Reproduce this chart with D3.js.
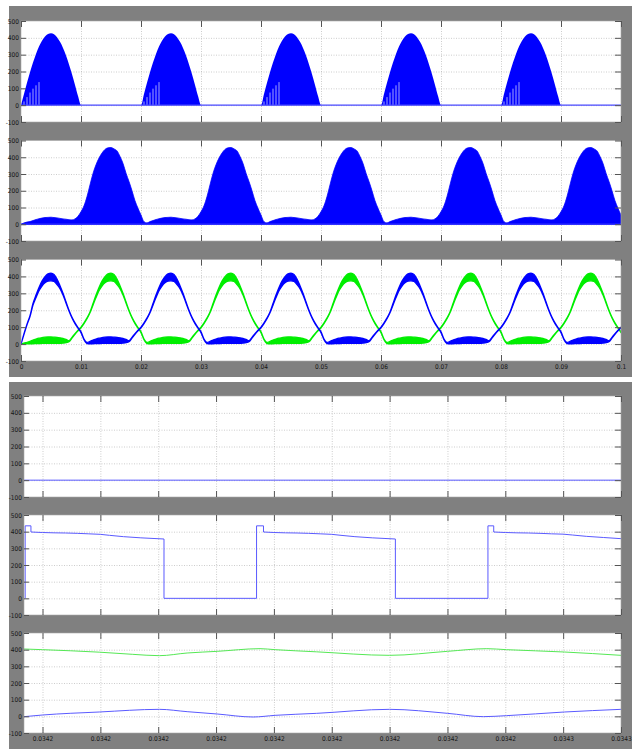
<!DOCTYPE html>
<html>
<head>
<meta charset="utf-8">
<script src="https://cdnjs.cloudflare.com/ajax/libs/d3/7.8.5/d3.min.js"></script>
<style>
  body { margin: 0; background: #fff; }
  svg { display: block; }
  .tick text {
    font-family: "Liberation Sans Narrow", "DejaVu Sans Condensed", "Arial Narrow", sans-serif;
    font-size: 6.5px;
    fill: #151515;
  }
</style>
</head>
<body>
<svg id="chart"></svg>
<script>
// ---- data ----
const sampleStep = 0.0005;   // spacing of the per-period samples (s)
const period = 0.02;
const nPeriods = 5;

const topXTicks = [0, 0.01, 0.02, 0.03, 0.04, 0.05, 0.06, 0.07, 0.08, 0.09, 0.1];
const topXLabels = ["0", "0.01", "0.02", "0.03", "0.04", "0.05", "0.06", "0.07", "0.08", "0.09", "0.1"];
const yTicks = [-100, 0, 100, 200, 300, 400, 500];
const yTickLabels = ["-100", "0", "100", "200", "300", "400", "500"];

// top scope, trace 1: chopped half wave (one period)
const pulseEnv = [0, 67, 133, 196, 253, 304, 348, 383, 408, 423, 427, 421, 404, 376, 340, 295, 242, 184, 120, 54,
                  0, 0, 0, 0, 0, 0, 0, 0, 0, 0, 0, 0, 0, 0, 0, 0, 0, 0, 0, 0];
const gapTimes = [0.0005, 0.001, 0.0015, 0.002, 0.0025, 0.003];
const gapHeights = [22, 48, 75, 98, 118, 137];

// top scope, trace 2 (one period) and its first samples after start-up
const bridgeEnv = [55, 15, 8, 16, 22, 28, 33, 37, 40, 41, 42, 40, 38, 35, 32, 30, 27, 26, 32, 48,
                   75, 110, 165, 235, 303, 355, 395, 425, 447, 456, 458, 450, 438, 405, 363, 305, 255, 200, 140, 95];
const bridgeStart = [0, 8, 13];

// top scope, trace 3: upper / lower edge of the blue and green bands (one period)
const blueHi = [100, 125, 155, 190, 240, 290, 335, 372, 398, 415, 420, 412, 385, 345, 300, 250, 200, 158, 125, 98,
                72, 30, 10, 16, 24, 30, 35, 38, 41, 42, 42, 41, 40, 37, 33, 28, 20, 40, 62, 82];
const blueLo = [96, 121, 150, 185, 230, 275, 315, 343, 362, 372, 374, 370, 352, 328, 290, 243, 195, 154, 121, 94,
                68, 26, 3, 2, 2, 3, 3, 4, 4, 5, 5, 5, 5, 5, 6, 8, 14, 35, 58, 78];
const greenHi = [72, 30, 10, 16, 24, 30, 35, 38, 41, 42, 42, 41, 40, 37, 33, 28, 20, 40, 62, 82,
                 100, 125, 155, 190, 240, 290, 335, 372, 398, 415, 420, 412, 385, 345, 300, 250, 200, 158, 125, 98];
const greenLo = [68, 26, 3, 2, 2, 3, 3, 4, 4, 5, 5, 5, 5, 5, 6, 8, 14, 35, 58, 78,
                 96, 121, 150, 185, 230, 275, 315, 343, 362, 372, 374, 370, 352, 328, 290, 243, 195, 154, 121, 94];
// first samples after start-up (both traces begin at zero)
const blueStartHi = [0, 62, 118, 168];
const blueStartLo = [0, 58, 114, 163];
const greenStartHi = [0, 6, 10, 16];
const greenStartLo = [0, 1, 2, 2];

// bottom scope (zoomed time window)
const botXDomain = [0.0342084, 0.03426];
const botXTicks = [0.03421, 0.034215, 0.03422, 0.034225, 0.03423, 0.034235, 0.03424, 0.034245, 0.03425, 0.034255, 0.03426];
const botXLabels = ["0.0342", "0.0342", "0.0342", "0.0342", "0.0342", "0.0342", "0.0342", "0.0342", "0.0342", "0.0343", "0.0343"];

const zeroT = [0.0342084, 0.03426];
const zeroV = [0, 0];

const switchT = [0.0342085, 0.0342085, 0.0342090, 0.0342090, 0.0342100, 0.0342110, 0.0342120, 0.0342130, 0.0342140,
                 0.0342150, 0.0342158, 0.0342170, 0.0342185, 0.0342205, 0.0342205,
                 0.0342285, 0.0342285, 0.0342291, 0.0342291, 0.0342300, 0.0342310, 0.0342320, 0.0342330, 0.0342340,
                 0.0342350, 0.0342358, 0.0342370, 0.0342385, 0.0342405, 0.0342405,
                 0.0342485, 0.0342485, 0.0342490, 0.0342490, 0.0342500, 0.0342510, 0.0342520, 0.0342530, 0.0342540,
                 0.0342550, 0.0342558, 0.0342570, 0.0342585, 0.0342600];
const switchV = [0, 435, 435, 398, 395, 393, 392, 390, 387,
                 384, 378, 370, 363, 356, 0,
                 0, 435, 435, 398, 395, 393, 392, 390, 387,
                 384, 378, 370, 363, 356, 0,
                 0, 435, 435, 398, 395, 393, 392, 390, 387,
                 385, 380, 372, 365, 358];

const greenT = [0.0342084, 0.0342100, 0.0342149, 0.0342178, 0.0342201, 0.0342225, 0.0342251, 0.0342288,
                0.0342301, 0.0342337, 0.0342400, 0.0342450, 0.0342484, 0.0342501, 0.0342551, 0.0342600];
const greenV = [404, 400, 385, 372, 364, 380, 390, 406, 400, 387, 366, 390, 406, 400, 386, 366];
const blueT = [0.0342084, 0.0342100, 0.0342149, 0.0342201, 0.0342225, 0.0342251, 0.0342282, 0.0342301,
               0.0342337, 0.0342400, 0.0342450, 0.0342481, 0.0342501, 0.0342551, 0.0342600];
const blueV = [-2, 8, 26, 42, 28, 14, -4, 6, 18, 42, 18, -2, 4, 26, 42];

// ---- drawing ----
const width = 637;
const height = 749;

const svg = d3.select("#chart")
    .attr("width", width)
    .attr("height", height);

// scope backgrounds
svg.append("rect").attr("x", 9).attr("y", 6).attr("width", 623).attr("height", 371).attr("fill", "#808080");
svg.append("rect").attr("x", 9).attr("y", 382).attr("width", 623).attr("height", 367).attr("fill", "#808080");

const topX = d3.scaleLinear().domain([0, 0.1]).range([21, 621]);
const botX = d3.scaleLinear().domain(botXDomain).range([24, 621]);

// repeat one sampled period over the whole run, with optional start-up samples
const tile = (env, start = []) => {
    const pts = [];
    for (let p = 0; p < nPeriods; p++) {
        env.forEach((v, i) => pts.push([p * period + i * sampleStep, v]));
    }
    pts.push([nPeriods * period, env[0]]);
    start.forEach((v, i) => { pts[i][1] = v; });
    return pts;
};

let clipId = 0;

const makePlot = (x, top, bottom, xTicks, xLabels) => {
    const y = d3.scaleLinear().domain([-100, 500]).range([bottom, top]);
    const [x0, x1] = x.range();
    const g = svg.append("g");

    g.append("rect")
        .attr("x", x0).attr("y", top)
        .attr("width", x1 - x0).attr("height", bottom - top)
        .attr("fill", "#fff");

    // dotted grid
    const innerX = xTicks.filter(d => x(d) > x0 + 1 && x(d) < x1 - 1);
    g.append("g")
        .attr("transform", `translate(0,${bottom})`)
        .call(d3.axisBottom(x).tickValues(innerX).tickSize(-(bottom - top)).tickFormat(""))
        .call(s => s.select(".domain").remove())
        .call(s => s.selectAll("line").attr("stroke", "#b8b8b8").attr("stroke-width", 0.7).attr("stroke-dasharray", "1,1.5"));
    g.append("g")
        .attr("transform", `translate(${x0},0)`)
        .call(d3.axisLeft(y).tickValues([0, 100, 200, 300, 400]).tickSize(-(x1 - x0)).tickFormat(""))
        .call(s => s.select(".domain").remove())
        .call(s => s.selectAll("line").attr("stroke", "#b8b8b8").attr("stroke-width", 0.7).attr("stroke-dasharray", "1,1.5"));

    const id = "clip" + (clipId++);
    svg.append("clipPath").attr("id", id)
        .append("rect")
        .attr("x", x0).attr("y", top)
        .attr("width", x1 - x0).attr("height", bottom - top);
    const data = g.append("g").attr("clip-path", `url(#${id})`);

    const frame = svg.append("g");
    frame.append("rect")
        .attr("x", x0).attr("y", top)
        .attr("width", x1 - x0).attr("height", bottom - top)
        .attr("fill", "none")
        .attr("stroke", "#a8a8a8")
        .attr("stroke-width", 0.6);

    const styleTicks = s => {
        s.select(".domain").remove();
        s.selectAll("line").attr("stroke", "#555").attr("stroke-width", 1);
    };

    // tick marks pointing inside, labels on the left (and bottom if asked)
    frame.append("g")
        .attr("transform", `translate(${x0},0)`)
        .call(d3.axisLeft(y).tickValues(yTicks).tickSize(-5).tickPadding(2)
            .tickFormat((d, i) => yTickLabels[i]))
        .call(styleTicks);
    frame.append("g")
        .attr("transform", `translate(${x1},0)`)
        .call(d3.axisRight(y).tickValues(yTicks).tickSize(-6).tickFormat(""))
        .call(styleTicks);
    frame.append("g")
        .attr("transform", `translate(0,${top})`)
        .call(d3.axisTop(x).tickValues(xTicks).tickSize(-6).tickFormat(""))
        .call(styleTicks);
    frame.append("g")
        .attr("transform", `translate(0,${bottom})`)
        .call(d3.axisBottom(x).tickValues(xTicks).tickSize(-6).tickPadding(3)
            .tickFormat((d, i) => xLabels ? xLabels[i] : ""))
        .call(styleTicks);

    return { data, y };
};

// ---------- top scope ----------
const p1 = makePlot(topX, 21, 122, topXTicks, null);
p1.data.append("path")
    .datum(tile(pulseEnv))
    .attr("fill", "#0000ff")
    .attr("d", d3.area().curve(d3.curveMonotoneX)
        .x(d => topX(d[0])).y0(p1.y(0)).y1(d => p1.y(d[1])));

const gaps = [];
for (let p = 0; p < nPeriods; p++) {
    gapTimes.forEach((t, k) => gaps.push({ t: p * period + t, h: gapHeights[k] }));
}
p1.data.selectAll(".gap")
    .data(gaps)
    .enter()
    .append("line")
    .attr("class", "gap")
    .attr("x1", d => topX(d.t)).attr("x2", d => topX(d.t))
    .attr("y1", p1.y(0)).attr("y2", d => p1.y(d.h))
    .attr("stroke", "#e8e8ff")
    .attr("stroke-width", 0.7);

p1.data.append("line")
    .attr("x1", topX(0)).attr("x2", topX(0.1))
    .attr("y1", p1.y(0)).attr("y2", p1.y(0))
    .attr("stroke", "#4848ff")
    .attr("stroke-width", 1.2);

const p2 = makePlot(topX, 140.5, 241, topXTicks, null);
p2.data.append("path")
    .datum(tile(bridgeEnv, bridgeStart))
    .attr("fill", "#0000ff")
    .attr("stroke", "#0000ff")
    .attr("stroke-width", 0.8)
    .attr("d", d3.area().curve(d3.curveMonotoneX)
        .x(d => topX(d[0])).y0(p2.y(0)).y1(d => p2.y(d[1])));
p2.data.append("line")
    .attr("x1", topX(0)).attr("x2", topX(0.1))
    .attr("y1", p2.y(0)).attr("y2", p2.y(0))
    .attr("stroke", "#3030ff")
    .attr("stroke-width", 1.4);

const p3 = makePlot(topX, 259.5, 361, topXTicks, topXLabels);
const band = (hi, lo, startHi, startLo, color) => {
    const los = tile(lo, startLo);
    const pts = tile(hi, startHi).map((d, i) => [d[0], d[1], los[i][1]]);
    p3.data.append("path")
        .datum(pts)
        .attr("fill", color)
        .attr("stroke", color)
        .attr("stroke-width", 1.3)
        .attr("stroke-linejoin", "round")
        .attr("d", d3.area().curve(d3.curveMonotoneX)
            .x(d => topX(d[0])).y0(d => p3.y(d[2])).y1(d => p3.y(d[1])));
};
band(greenHi, greenLo, greenStartHi, greenStartLo, "#00ee00");
band(blueHi, blueLo, blueStartHi, blueStartLo, "#0000ff");

// ---------- bottom scope ----------
const traceLine = (plot, ts, vs, color, curve) => {
    plot.data.append("path")
        .datum(d3.zip(ts, vs))
        .attr("fill", "none")
        .attr("stroke", color)
        .attr("stroke-width", 1)
        .attr("d", d3.line().curve(curve)
            .x(d => botX(d[0])).y(d => plot.y(d[1])));
};

const b1 = makePlot(botX, 396, 497, botXTicks, null);
traceLine(b1, zeroT, zeroV, "#5a5aff", d3.curveLinear);

const b2 = makePlot(botX, 515, 615, botXTicks, null);
traceLine(b2, switchT, switchV, "#5a5aff", d3.curveLinear);

const b3 = makePlot(botX, 633, 733, botXTicks, botXLabels);
traceLine(b3, greenT, greenV, "#55e855", d3.curveMonotoneX);
traceLine(b3, blueT, blueV, "#5a5aff", d3.curveMonotoneX);
</script>
</body>
</html>
